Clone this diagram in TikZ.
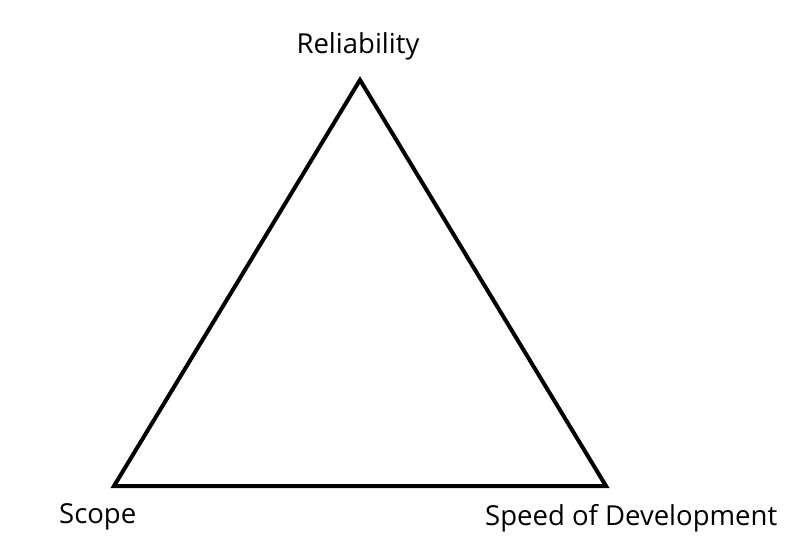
\documentclass[tikz,border=0pt]{standalone}
\usepackage{fontspec}
\setmainfont{Open Sans}
\usepackage{tikz}
\usetikzlibrary{positioning, calc}
\definecolor{edgecolor}{RGB}{0, 0, 0}

\begin{document}
\begin{tikzpicture}[x=1pt, y=-1pt,
    label text/.style={font=\fontsize{27.5}{32}\selectfont, inner sep=0pt},
    side/.style={line width=4pt, edgecolor, line join=miter}]
        % Canvas
        \useasboundingbox (0, 0) rectangle (799, 551);

        % Corners
        \coordinate (top) at (360, 80);
        \coordinate (left) at (114, 486);
        \coordinate (right) at (606, 486);

        % Triangle
        \draw[side] (top) -- (right) -- (left) -- cycle;

        % Labels
        \node[label text, anchor=base] (reliability) at (358, 53) {Reliability};
        \node[label text, anchor=base west] (scope) at (59, 523) {Scope};
        \node[label text, anchor=base west] (speed) at (485, 525) {Speed of Development};
\end{tikzpicture}
\end{document}
